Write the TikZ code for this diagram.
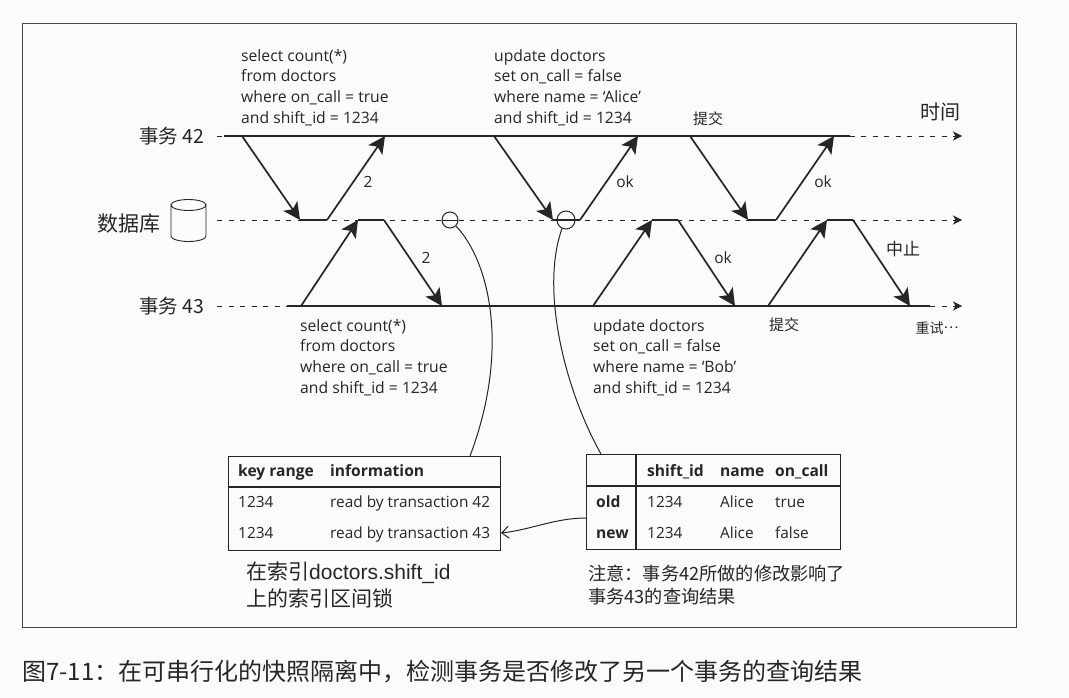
\documentclass[tikz,border=0pt]{standalone}
\usepackage{fontspec}
\setmainfont{Open Sans}
\newfontfamily\cjk{Noto Sans CJK SC}
\newfontfamily\lat{Liberation Sans}
\usetikzlibrary{arrows.meta}
\definecolor{ink}{HTML}{262626}
\definecolor{paper}{HTML}{FBFBFB}
\tikzset{
  x=1pt,y=-1pt,
  every node/.style={inner sep=0pt,text=ink},
  sql/.style={anchor=north west,align=left,font=\fontsize{15.7}{20.8}\selectfont},
  cell/.style={anchor=base west,font=\fontsize{15.4}{17}\selectfont},
  hcell/.style={anchor=base west,font=\fontsize{15.6}{17}\selectfont\bfseries},
  tag/.style={anchor=center,font=\fontsize{15.5}{17}\selectfont},
  zh/.style={anchor=center,font=\cjk\fontsize{#1}{#1}\selectfont},
  note/.style n args={2}{anchor=north west,align=left,font=\cjk\fontsize{#1}{#2}\selectfont},
  tbl/.style={draw=ink,line width=1.1pt,anchor=north west,fill=none},
  frame/.style={draw=ink!85,line width=0.9pt},
  solidline/.style={draw=ink,line width=1.5pt},
  dashline/.style={draw=ink,line width=0.8pt,dash pattern=on 5pt off 6.5pt,-{Stealth[length=9pt,width=9pt,inset=2.5pt]}},
  flow/.style={draw=ink,line width=1.7pt,line join=miter,-{Stealth[length=17pt,width=17pt,inset=4pt]}},
  leader/.style={draw=ink,line width=1pt},
  mark circle/.style={circle,draw=ink,line width=1pt,minimum size=#1,anchor=center},
  grid line/.style={draw=ink,line width=1.1pt},
}
\begin{document}
\begin{tikzpicture}
\useasboundingbox (0,0) rectangle (1069,698);
\fill[paper] (0,0) rectangle (1069,698);
\draw[frame] (22,23) rectangle (1016,627);

% time lines
\coordinate (l42s) at (217,136); \coordinate (l42a) at (224,136); \coordinate (l42b) at (850,136); \coordinate (l42e) at (962,136);
\coordinate (dbs) at (217,220); \coordinate (dbe) at (962,220);
\coordinate (l43s) at (217,306); \coordinate (l43a) at (287,306); \coordinate (l43b) at (930,306); \coordinate (l43e) at (962,306);
\draw[dashline] (l42s) -- (l42e);
\draw[dashline] (dbs) -- (dbe);
\draw[dashline] (l43s) -- (l43e);
\draw[solidline] (l42a) -- (l42b);
\draw[solidline] (l43a) -- (l43b);

% labels left
\node[zh=19.5] (t42) at (172,136) {事务 42};
\node[zh=19.5] (t43) at (172,306) {事务 43};
\node[zh=21] (dbl) at (129,224) {数据库};
\node[zh=20] (time) at (940,112) {时间};

% database
\draw[draw=ink,line width=0.9pt,fill=none] (171,205) arc[start angle=180,end angle=0,x radius=17.5,y radius=5.5] -- (206,236)
  arc[start angle=0,end angle=180,x radius=17.5,y radius=5.5] -- cycle;
\draw[draw=ink,line width=0.9pt] (171,205) arc[start angle=180,end angle=360,x radius=17.5,y radius=5.5];

% exchange arrows
\foreach \n/\xa/\xb/\xc/\xd in {a1/242/300/327/385,a2/494/553/580/638,a3/690/748/776/834}{
  \coordinate (\n p) at (\xa,136); \coordinate (\n q) at (\xb,220);
  \coordinate (\n r) at (\xc,220); \coordinate (\n s) at (\xd,136);
  \draw[flow] (\n p) -- (\n q);
  \draw[solidline] (\n q) -- (\n r);
  \draw[flow] (\n r) -- (\n s);
}
\foreach \n/\xa/\xb/\xc/\xd in {b1/301/358/384/442,b2/593/652/678/735,b3/768/827/853/910}{
  \coordinate (\n p) at (\xa,306); \coordinate (\n q) at (\xb,220);
  \coordinate (\n r) at (\xc,220); \coordinate (\n s) at (\xd,306);
  \draw[flow] (\n p) -- (\n q);
  \draw[solidline] (\n q) -- (\n r);
  \draw[flow] (\n r) -- (\n s);
}

% arrow labels
\node[tag] (n1) at (368,182) {2};
\node[tag] (n2) at (426,258) {2};
\node[tag] (ok1) at (625,182) {ok};
\node[tag] (ok2) at (823,182) {ok};
\node[tag] (ok3) at (723,258) {ok};
\node[zh=17] (abort) at (903,249) {中止};
\node[zh=15] (c42) at (708,119) {提交};
\node[zh=15] (c43) at (784,325) {提交};
\node[zh=14] (retry) at (937,328) {重试\raisebox{0.32em}{…}};

% SQL
\node[sql] (q1) at (241,49) {select count(*)\\from doctors\\where on\_call = true\\and shift\_id = 1234};
\node[sql] (q2) at (494,49) {update doctors\\set on\_call = false\\where name = ‘Alice’\\and shift\_id = 1234};
\node[sql] (q3) at (300,319) {select count(*)\\from doctors\\where on\_call = true\\and shift\_id = 1234};
\node[sql] (q4) at (593,319) {update doctors\\set on\_call = false\\where name = ‘Bob’\\and shift\_id = 1234};

% tables
\node[tbl,minimum width=272pt,minimum height=94pt] (tL) at (228,456) {};
\node[tbl,minimum width=254pt,minimum height=95pt] (tR) at (586,454) {};
\draw[grid line] (228,487) -- (500,487);
\draw[grid line] (586,486) -- (840,486);
\draw[grid line] (636,454) -- (636,549);

\node[hcell] (k0) at (238,476) {key range};
\node[hcell] (k1) at (330,476) {information};
\node[cell] (k2) at (238,507) {1234};
\node[cell] (k3) at (330,507) {read by transaction 42};
\node[cell] (k4) at (238,538) {1234};
\node[cell] (k5) at (330,538) {read by transaction 43};

\node[hcell] (h1) at (647,476) {shift\_id};
\node[hcell] (h2) at (720,476) {name};
\node[hcell] (h3) at (775,476) {on\_call};
\node[hcell] (r1) at (596,507) {old};
\node[cell] (r2) at (647,507) {1234};
\node[cell] (r3) at (720,507) {Alice};
\node[cell] (r4) at (775,507) {true};
\node[hcell] (s1) at (596,538) {new};
\node[cell] (s2) at (647,538) {1234};
\node[cell] (s3) at (720,538) {Alice};
\node[cell] (s4) at (775,538) {false};

% circles and leaders
\node[mark circle=16pt] (c1) at (450,220) {};
\node[mark circle=18pt] (c2) at (566,220) {};
\draw[leader] (442,220) -- (458,220);
\coordinate (tLtop) at (470,456);
\coordinate (tRtop) at (601,454);
\coordinate (tRleft) at (586,518);
\coordinate (tLright) at (501,533);
\draw[leader] (c1.-45) .. controls (490,262) and (510,350) .. (tLtop);
\draw[leader] (c2.-115) .. controls (540,290) and (565,390) .. (tRtop);
\draw[leader,-{Straight Barb[length=7pt,width=12pt]}] (tRleft) .. controls (555,518) and (530,530) .. (tLright);

% notes
\node[note={21}{27}] (nL) at (246,562) {在索引{\lat\fontsize{21}{27}\selectfont doctors.shift\_id}\\上的索引区间锁};
\node[note={18.2}{23}] (nR) at (588,565) {注意：事务42所做的修改影响了\\事务43的查询结果};
\node[anchor=west,font=\cjk\fontsize{24}{26}\selectfont] (cap) at (22,672) {图7-11：在可串行化的快照隔离中，检测事务是否修改了另一个事务的查询结果};
\end{tikzpicture}
\end{document}
